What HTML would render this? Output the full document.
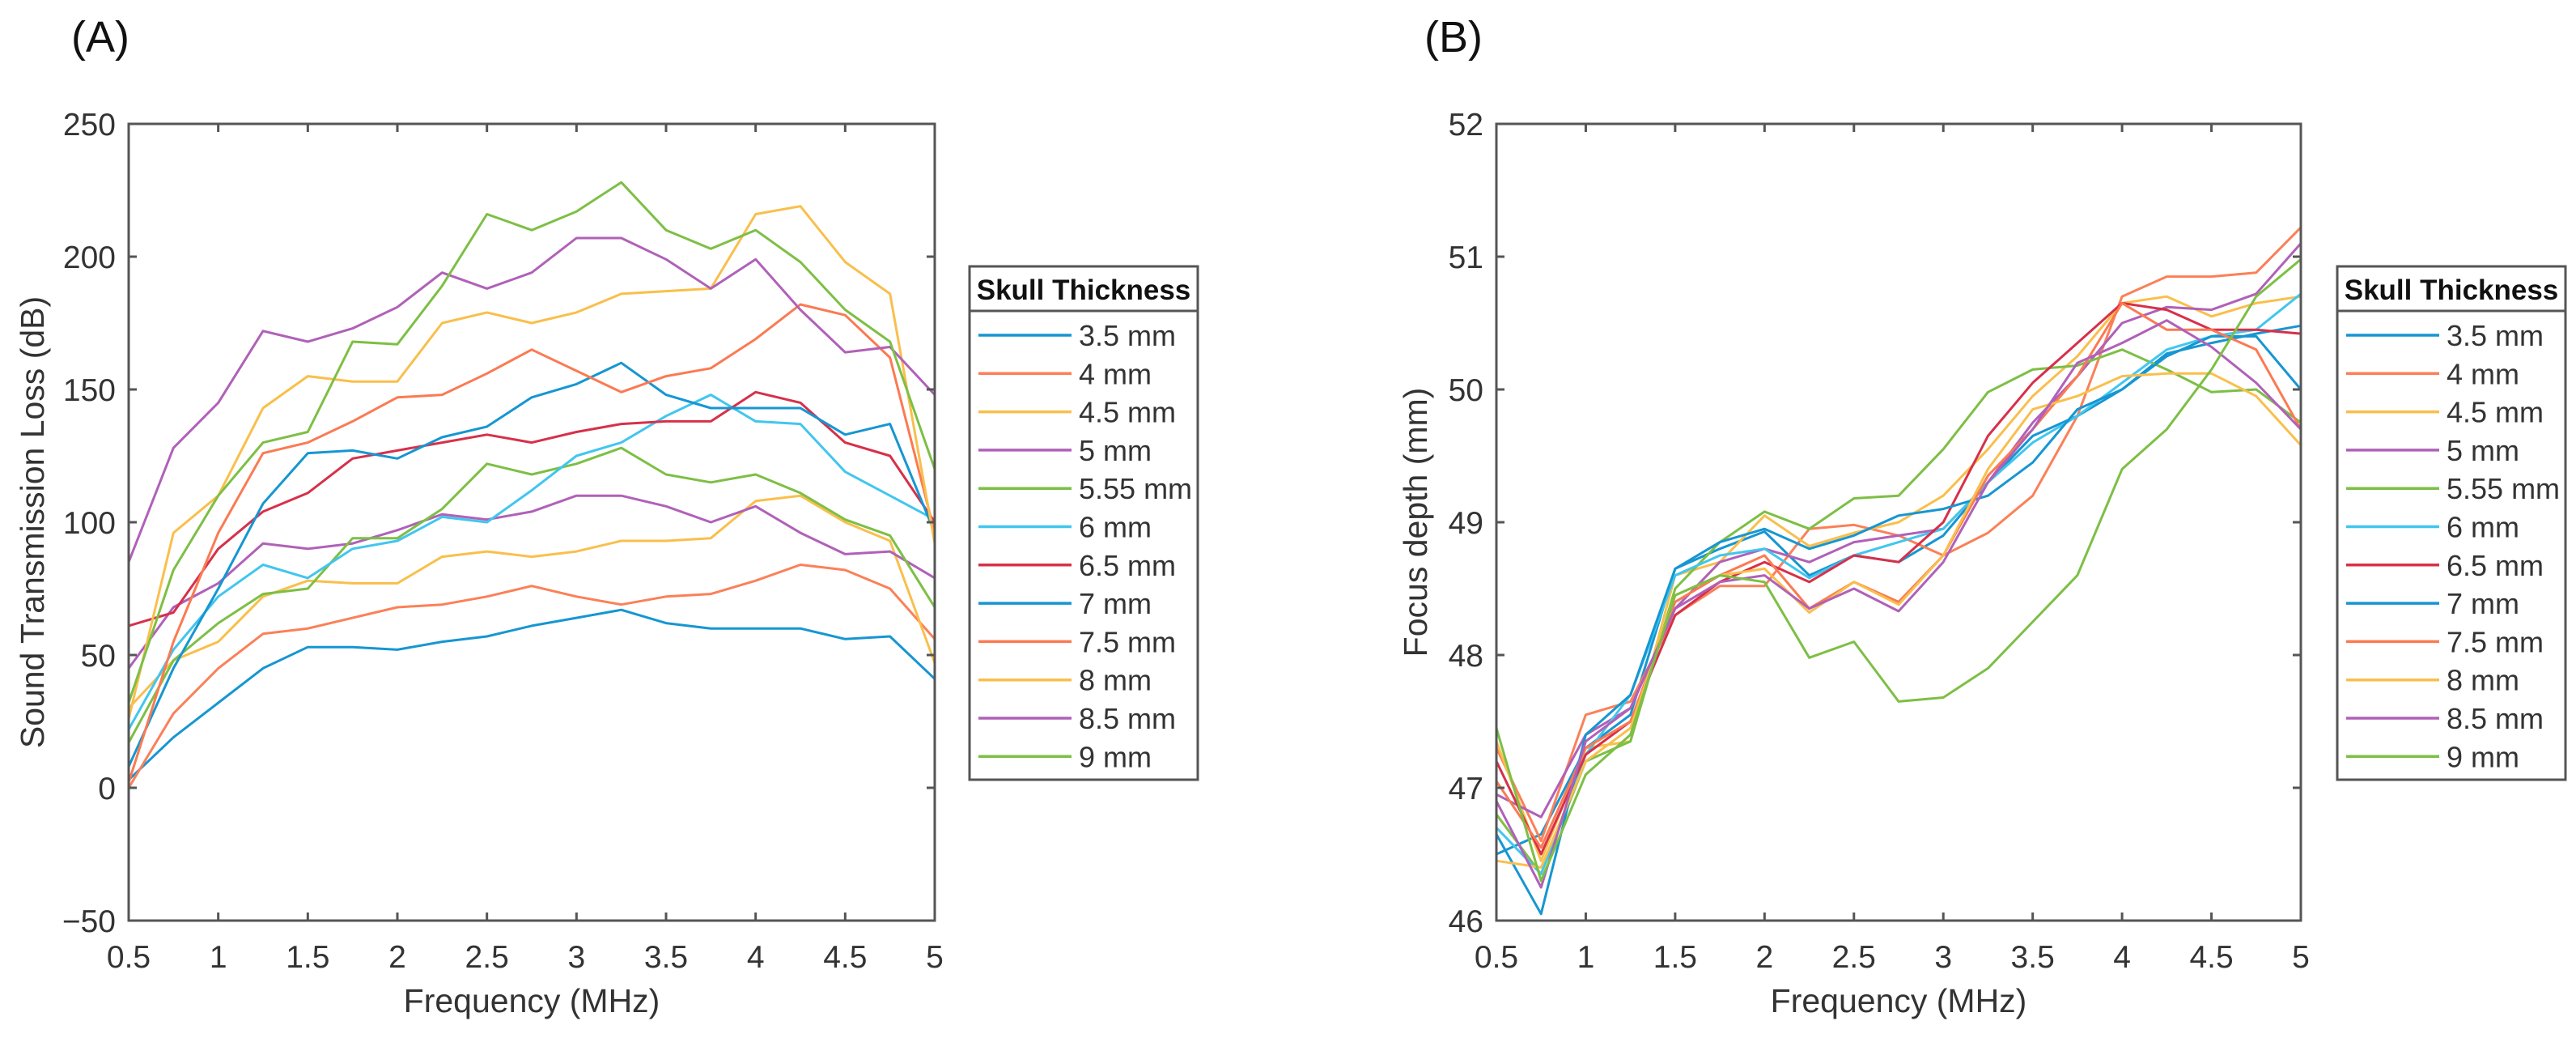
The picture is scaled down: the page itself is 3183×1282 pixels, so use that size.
<!DOCTYPE html>
<html><head><meta charset="utf-8"><style>
html,body{margin:0;padding:0;background:#fff}
svg{display:block;font-family:"Liberation Sans",sans-serif}
</style></head><body>
<svg id="fig" width="3183" height="1282" viewBox="0 0 3183 1282">
<text x="88" y="64" font-size="54" fill="#111">(A)</text>
<text x="1760" y="64" font-size="54" fill="#111">(B)</text>
<g id="pa"></g>
<g id="pb"></g>
</svg>
<script>
const freqs=[0.5,0.75,1,1.25,1.5,1.75,2,2.25,2.5,2.75,3,3.25,3.5,3.75,4,4.25,4.5,4.75,5];
const names=["3.5 mm","4 mm","4.5 mm","5 mm","5.55 mm","6 mm","6.5 mm","7 mm","7.5 mm","8 mm","8.5 mm","9 mm"];
const colors=["#1696d2","#fb8058","#f9bf4c","#b061b8","#7dbf45","#41c6ef","#d7304a","#1696d2","#fb7a52","#f9bf4c","#b061b8","#7dbf45"];
const xTicks=[0.5,1,1.5,2,2.5,3,3.5,4,4.5,5];
const xTickLabels=["0.5","1","1.5","2","2.5","3","3.5","4","4.5","5"];
const aTicks=[-50,0,50,100,150,200,250];
const bTicks=[46,47,48,49,50,51,52];
const lossA=[
[3,19,32,45,53,53,52,55,57,61,64,67,62,60,60,60,56,57,41],
[0,28,45,58,60,64,68,69,72,76,72,69,72,73,78,84,82,75,56],
[30,48,55,72,78,77,77,87,89,87,89,93,93,94,108,110,100,93,47],
[45,68,77,92,90,92,97,103,101,104,110,110,106,100,106,96,88,89,79],
[17,48,62,73,75,94,94,105,122,118,122,128,118,115,118,111,101,95,68],
[22,52,72,84,79,90,93,102,100,112,125,130,140,148,138,137,119,110,101],
[61,66,90,104,111,124,127,130,133,130,134,137,138,138,149,145,130,125,100],
[8,45,75,107,126,127,124,132,136,147,152,160,148,143,143,143,133,137,96],
[2,55,96,126,130,138,147,148,156,165,157,149,155,158,169,182,178,162,96],
[26,96,110,143,155,153,153,175,179,175,179,186,187,188,216,219,198,186,92],
[85,128,145,172,168,173,181,194,188,194,207,207,199,188,199,180,164,166,148],
[32,82,110,130,134,168,167,189,216,210,217,228,210,203,210,198,180,168,120]];
const depthB=[
[46.5,46.65,47.3,47.55,48.65,48.8,48.93,48.6,48.75,48.7,48.9,49.3,49.65,49.8,50.0,50.27,50.35,50.42,50.48],
[47.3,46.6,47.55,47.65,48.3,48.52,48.52,48.95,48.98,48.9,48.75,48.92,49.2,49.8,50.7,50.85,50.85,50.88,51.22],
[47.35,46.45,47.3,47.35,48.6,48.7,49.05,48.82,48.92,49.0,49.2,49.55,49.95,50.25,50.65,50.7,50.55,50.65,50.7],
[46.95,46.78,47.4,47.6,48.35,48.7,48.8,48.7,48.85,48.9,48.95,49.3,49.75,50.1,50.5,50.62,50.6,50.72,51.1],
[46.8,46.35,47.2,47.35,48.5,48.85,49.08,48.95,49.18,49.2,49.55,49.98,50.15,50.18,50.3,50.15,49.98,50.0,49.75],
[46.7,46.35,47.25,47.7,48.6,48.75,48.8,48.58,48.75,48.85,48.95,49.3,49.6,49.8,50.05,50.3,50.4,50.45,50.72],
[47.2,46.5,47.25,47.5,48.3,48.55,48.7,48.55,48.75,48.7,49.0,49.65,50.05,50.35,50.65,50.6,50.45,50.45,50.42],
[46.65,46.05,47.4,47.7,48.65,48.85,48.95,48.8,48.9,49.05,49.1,49.2,49.45,49.85,50.0,50.25,50.4,50.4,50.0],
[47.05,46.55,47.3,47.5,48.4,48.6,48.75,48.35,48.55,48.4,48.75,49.35,49.7,50.1,50.65,50.45,50.45,50.3,49.7],
[46.45,46.4,47.2,47.45,48.45,48.6,48.65,48.32,48.55,48.38,48.75,49.4,49.85,49.95,50.1,50.12,50.12,49.95,49.58],
[46.9,46.25,47.35,47.6,48.35,48.55,48.6,48.35,48.5,48.33,48.7,49.3,49.7,50.2,50.35,50.52,50.32,50.05,49.7],
[47.45,46.3,47.1,47.4,48.45,48.6,48.55,47.98,48.1,47.65,47.68,47.9,48.25,48.6,49.4,49.7,50.15,50.7,50.98]];
const NS="http://www.w3.org/2000/svg";
function mk(p,tag,at){const e=document.createElementNS(NS,tag);for(const k in at)e.setAttribute(k,at[k]);p.appendChild(e);return e;}
function panel(g,L,R,T,B,ymin,ymax,yTicks,series,ytitle,legX,pre){
  const sx=v=>L+(v-0.5)/(4.5)*(R-L);
  const sy=v=>B-(v-ymin)/(ymax-ymin)*(B-T);
  series.forEach((s,i)=>{
    const d=s.map((v,j)=>(j?'L':'M')+sx(freqs[j]).toFixed(1)+','+sy(v).toFixed(1)).join(' ');
    const p=mk(g,'path',{d:d,fill:'none',stroke:colors[i],'stroke-width':3,'stroke-linejoin':'round'});
    
    
  });
  const box=mk(g,'rect',{x:L,y:T,width:R-L,height:B-T,fill:'none',stroke:'#555','stroke-width':3});
  
  
  xTicks.forEach((v,i)=>{
    const x=sx(v);
    mk(g,'line',{x1:x,y1:B,x2:x,y2:B-10,stroke:'#555','stroke-width':3});
    mk(g,'line',{x1:x,y1:T,x2:x,y2:T+10,stroke:'#555','stroke-width':3});
    const t=mk(g,'text',{x:x,y:B+58,'font-size':39,'text-anchor':'middle',fill:'#333'});
    t.textContent=xTickLabels[i];
    
    
  });
  yTicks.forEach(v=>{
    const y=sy(v);
    mk(g,'line',{x1:L,y1:y,x2:L+10,y2:y,stroke:'#555','stroke-width':3});
    mk(g,'line',{x1:R,y1:y,x2:R-10,y2:y,stroke:'#555','stroke-width':3});
    const t=mk(g,'text',{x:L-16,y:y+14,'font-size':39,'text-anchor':'end',fill:'#333'});
    t.textContent=String(v).replace('-','\u2212');
    
    
  });
  const xt=mk(g,'text',{x:(L+R)/2,y:1250,'font-size':41,'text-anchor':'middle',fill:'#333'});
  xt.textContent='Frequency (MHz)';
  
  
  const yx=L-(pre==='a'?105:86), yc=645;
  const yt=mk(g,'text',{x:yx,y:yc,'font-size':41,'text-anchor':'middle',fill:'#333',transform:'rotate(-90 '+yx+' '+yc+')'});
  yt.textContent=ytitle;
  
  
  const lg=mk(g,'g',{});
  
  
  mk(lg,'rect',{x:legX,y:329,width:282,height:634,fill:'#fff',stroke:'#555','stroke-width':3});
  mk(lg,'line',{x1:legX,y1:384,x2:legX+282,y2:384,stroke:'#555','stroke-width':3});
  const tt=mk(lg,'text',{x:legX+141,y:370,'font-size':35,'font-weight':'bold','text-anchor':'middle',fill:'#111'});
  tt.textContent='Skull Thickness';
  
  
  names.forEach((n,i)=>{
    const y=414+i*47.3;
    const ln=mk(lg,'line',{x1:legX+11,y1:y,x2:legX+126,y2:y,stroke:colors[i],'stroke-width':3.5});
    
    
    const t=mk(lg,'text',{x:legX+135,y:y+13,'font-size':36,fill:'#333'});
    t.textContent=n;
    
    
  });
}
panel(document.getElementById('pa'),159,1155,153,1137,-50,250,aTicks,lossA,'Sound Transmission Loss (dB)',1198,'a');
panel(document.getElementById('pb'),1849,2843,153,1137,46,52,bTicks,depthB,'Focus depth (mm)',2888,'b');
</script>
</body></html>
